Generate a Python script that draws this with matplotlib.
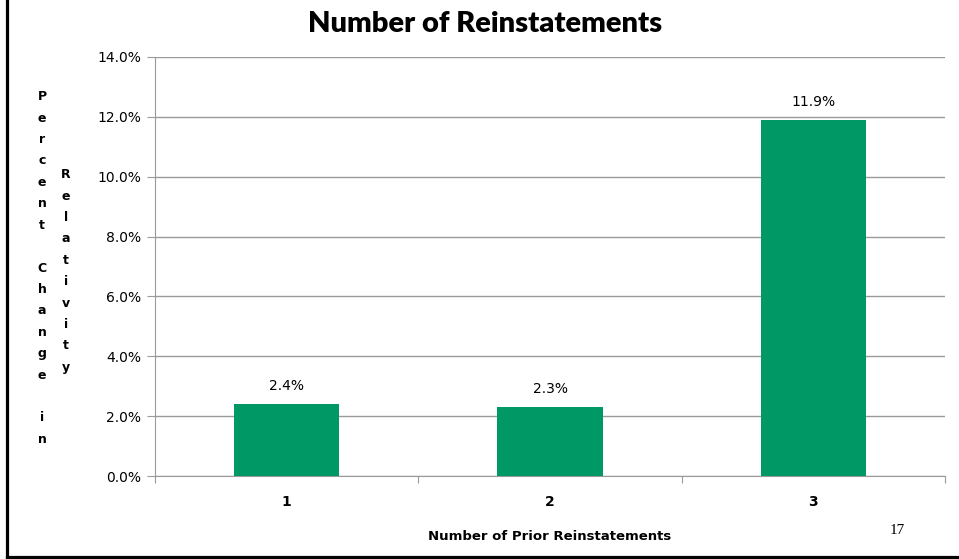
import matplotlib
matplotlib.use("Agg")
import matplotlib.pyplot as plt
from matplotlib.ticker import FuncFormatter

# chart data
categories = ["1", "2", "3"]
values = [2.4, 2.3, 11.9]
value_labels = ["2.4%", "2.3%", "11.9%"]
y_ticks = [0, 2, 4, 6, 8, 10, 12, 14]

BAR_COLOR = "#009966"
GRID_COLOR = "#9a9a9a"

fig = plt.figure(figsize=(9.59, 5.59), dpi=100)
W, H = 959, 559
ax = fig.add_axes([155 / W, 1 - 476 / H, (945 - 155) / W, (476 - 57) / H])

x = list(range(len(categories)))
ax.bar(x, values, width=0.4, color=BAR_COLOR, zorder=3)
ax.set_xlim(-0.5, len(categories) - 0.5)
ax.set_ylim(0, 14)

ax.set_yticks(y_ticks)
ax.yaxis.set_major_formatter(FuncFormatter(lambda v, _: f"{v:.1f}%"))
ax.yaxis.grid(True, color=GRID_COLOR, linewidth=1, zorder=0)
ax.tick_params(axis="y", length=6, color=GRID_COLOR, labelsize=10, pad=4)

# category ticks sit between bars, labels centred on bars
ax.set_xticks([-0.5, 0.5, 1.5, 2.5])
ax.set_xticklabels([])
ax.set_xticks(x, minor=True)
ax.set_xticklabels(categories, minor=True, fontweight="bold", fontsize=10)
ax.tick_params(axis="x", which="major", length=5, color=GRID_COLOR)
ax.tick_params(axis="x", which="minor", length=0, pad=14)

for s in ["top", "right"]:
    ax.spines[s].set_visible(False)
for s in ["left", "bottom"]:
    ax.spines[s].set_color(GRID_COLOR)

for xi, v, lab in zip(x, values, value_labels):
    ax.annotate(lab, (xi, v), xytext=(0, 8), textcoords="offset points",
                ha="center", va="bottom", fontsize=10)

ax.set_xlabel("Number of Prior Reinstatements", fontweight="bold", fontsize=9.5,
              labelpad=15)

fig.text(485 / W, 1 - 24 / H, "Number of Reinstatements", ha="center", va="center",
         fontsize=21, fontweight="heavy", family="Lato")

# stacked-letter y-axis label
col1 = "\n".join("Percent Change in")
col2 = "\n".join("Relativity")
fig.text(42 / W, 1 - 268 / H, col1, ha="center", va="center", fontsize=9,
         fontweight="bold", linespacing=1.84)
fig.text(66 / W, 1 - 271 / H, col2, ha="center", va="center", fontsize=9,
         fontweight="bold", linespacing=1.84)

fig.text(897 / W, 1 - 530 / H, "17", ha="center", va="center", fontsize=11,
         family="Liberation Serif")

# slide frame: left and bottom edges
fig.add_artist(plt.Line2D([7 / W, 7 / W], [1 - 557 / H, 1], color="black",
                          linewidth=2.3, transform=fig.transFigure))
fig.add_artist(plt.Line2D([7 / W, 1], [1 - 557 / H, 1 - 557 / H], color="black",
                          linewidth=2.3, transform=fig.transFigure))

fig.savefig("out.png", dpi=100)
